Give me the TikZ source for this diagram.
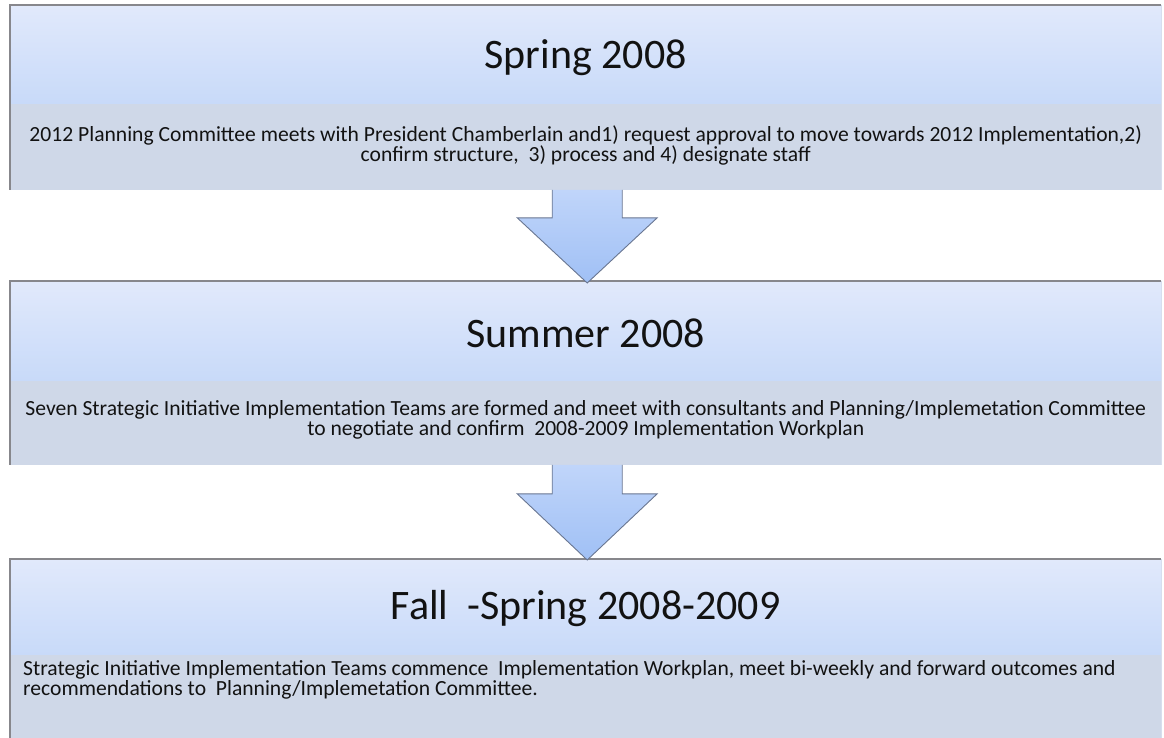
\documentclass[tikz,border=0pt]{standalone}
\usepackage{fontspec}
\setmainfont{Carlito}
\usetikzlibrary{calc}
\definecolor{hdrtop}{RGB}{225,233,251}
\definecolor{hdrbot}{RGB}{200,218,249}
\definecolor{bodyc}{RGB}{207,216,232}
\definecolor{edgec}{RGB}{135,135,140}
\definecolor{edgelight}{RGB}{215,222,238}
\definecolor{arrtop}{RGB}{192,213,250}
\definecolor{arrbot}{RGB}{160,192,245}
\definecolor{arredge}{RGB}{105,118,145}
\definecolor{txt}{RGB}{18,18,18}
\tikzset{
  hdrbox/.style={anchor=north west, minimum width=1151, minimum height=98, inner sep=0,
    top color=hdrtop, bottom color=hdrbot},
  titletext/.style={text=txt, inner sep=0, font=\fontsize{42}{48}\selectfont},
  bodybox/.style={anchor=north west, minimum width=1151, inner sep=0, fill=bodyc},
  bodytext/.style={text=txt, inner sep=0, align=center, font=\fontsize{21.6}{20}\selectfont},
  blockarrow/.style={top color=arrtop, bottom color=arrbot, draw=arredge, line width=0.9, line join=miter},
  edge/.style={draw=edgec, line width=1.2},
}
\begin{document}
\begin{tikzpicture}[x=1pt,y=-1pt]
\useasboundingbox (0,0) rectangle (1164,738);
\clip (0,0) rectangle (1164,738);
% ---- box 1
\node[hdrbox] (h1) at (10,5) {};
\node[titletext] (s1) at ($(h1.center)+(0,3)$) {Spring 2008};
\node[bodybox, minimum height=86] (b1) at (h1.south west) {};
\node[bodytext] (t1) at ($(b1.center)+(0,-1)$) {2012 Planning Committee meets with President Chamberlain and1) request approval to move towards 2012 Implementation,2)\\confirm structure,~~3) process and 4) designate staff};
\draw[edge] (b1.south west) -- (h1.north west) -- (h1.north east);
\draw[draw=edgelight, line width=1] (h1.north east) -- (b1.south east);
% ---- box 2
\node[hdrbox, minimum height=99] (h2) at (10,281) {};
\node[titletext] (s2) at ($(h2.center)+(0,3)$) {Summer 2008};
\node[bodybox, minimum height=84] (b2) at (h2.south west) {};
\node[bodytext] (t2) at ($(b2.center)+(0,-3)$) {Seven Strategic Initiative Implementation Teams are formed and meet with consultants and Planning/Implemetation Committee\\to negotiate and confirm~~2008-2009 Implementation Workplan};
\draw[edge] (b2.south west) -- (h2.north west) -- (h2.north east);
\draw[draw=edgelight, line width=1] (h2.north east) -- (b2.south east);
% ---- box 3
\node[hdrbox, minimum height=95] (h3) at (10,559) {};
\node[titletext] (s3) at ($(h3.center)+(0,2)$) {Fall~~-Spring 2008-2009};
\node[bodybox, minimum height=100] (b3) at (h3.south west) {};
\node[bodytext, align=left, anchor=north west] (t3) at ($(b3.north west)+(13,6)$) {Strategic Initiative Implementation Teams commence~~Implementation Workplan, meet bi-weekly and forward outcomes and\\recommendations to~~Planning/Implemetation Committee.};
\draw[edge] (b3.south west) -- (h3.north west) -- (h3.north east);
\draw[draw=edgelight, line width=1] (h3.north east) -- (b3.south east);
% ---- arrows
\coordinate (a1) at ($(b1.south)+(1.5,0)$);
\draw[blockarrow] ($(a1)+(-35,0)$) -- ++(0,28) -- ++(-35,0) -- ($(h2.north)+(1.5,2)$) -- ($(a1)+(70,28)$) -- ++(-35,0) -- ++(0,-28);
\coordinate (a2) at ($(b2.south)+(1.5,0)$);
\draw[blockarrow] ($(a2)+(-35,0)$) -- ++(0,29) -- ++(-35,0) -- ($(h3.north)+(1.5,1)$) -- ($(a2)+(70,29)$) -- ++(-35,0) -- ++(0,-29);
\end{tikzpicture}
\end{document}
